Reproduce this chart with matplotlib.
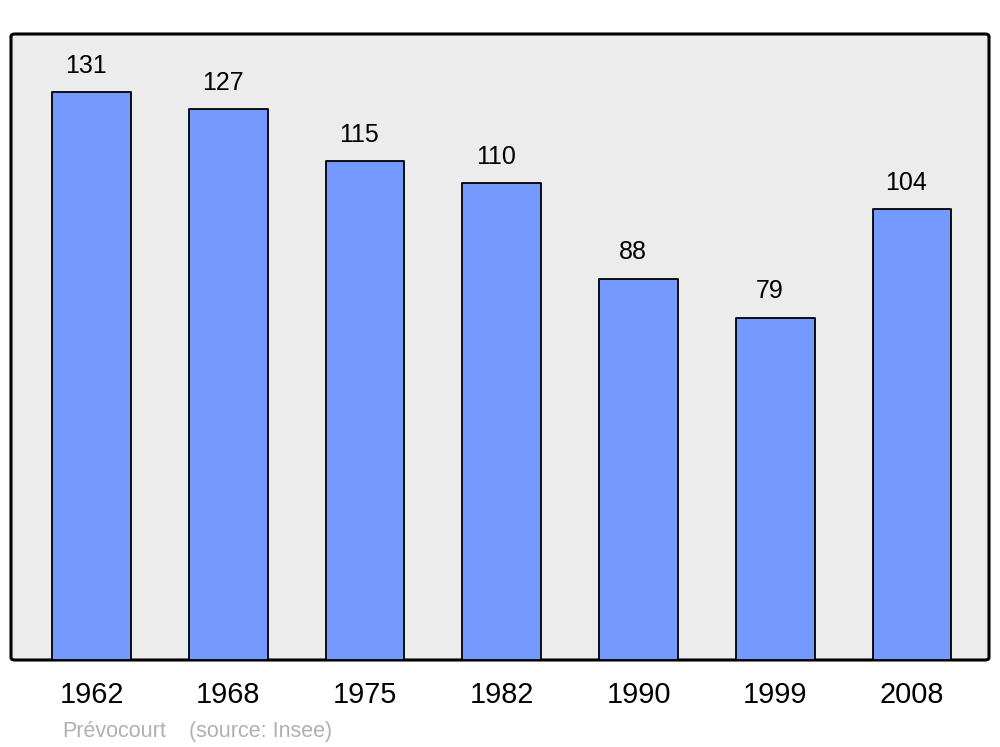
import matplotlib
matplotlib.use("Agg")
import matplotlib.pyplot as plt
from matplotlib.patches import FancyBboxPatch

years = ["1962", "1968", "1975", "1982", "1990", "1999", "2008"]
population = [131, 127, 115, 110, 88, 79, 104]
commune = "Prévocourt"
source = "(source: Insee)"

plt.rcParams["font.family"] = ["Liberation Sans", "DejaVu Sans"]

fig = plt.figure(figsize=(10, 7.47), dpi=100)
ax = fig.add_axes([0.011, 1 - 660 / 747, 0.978, (660 - 34) / 747])
ax.set_facecolor("none")
for s in ax.spines.values():
    s.set_visible(False)

# rounded background frame
frame = FancyBboxPatch((0, 0), 1, 1, boxstyle="round,pad=0,rounding_size=0.004",
                       transform=ax.transAxes, facecolor="#ececec",
                       edgecolor="black", linewidth=2.2, zorder=0, clip_on=False)
ax.add_patch(frame)

x = list(range(len(years)))
bars = ax.bar(x, population, width=0.575, color="#7499ff", edgecolor="black",
              linewidth=1.3, zorder=2)
for b in bars:
    b.set_joinstyle("round")

for xi, v in zip(x, population):
    ax.annotate(str(v), (xi, v), xytext=(-4, 13.7), textcoords="offset points",
                ha="center", va="baseline", fontsize=18)

ax.set_xlim(-0.589, 6.563)
ax.set_ylim(0, 144.4)
ax.set_yticks([])
ax.set_xticks(x)
ax.set_xticklabels(years, fontsize=20.8)
ax.tick_params(axis="x", length=0, pad=15)

fig.text(0.062, 1 - 737 / 747, commune, fontsize=15.5, color="#b0b0b0", ha="left", va="baseline")
fig.text(0.189, 1 - 737 / 747, source, fontsize=15.5, color="#b0b0b0", ha="left", va="baseline")

fig.savefig("out.png", dpi=100)
